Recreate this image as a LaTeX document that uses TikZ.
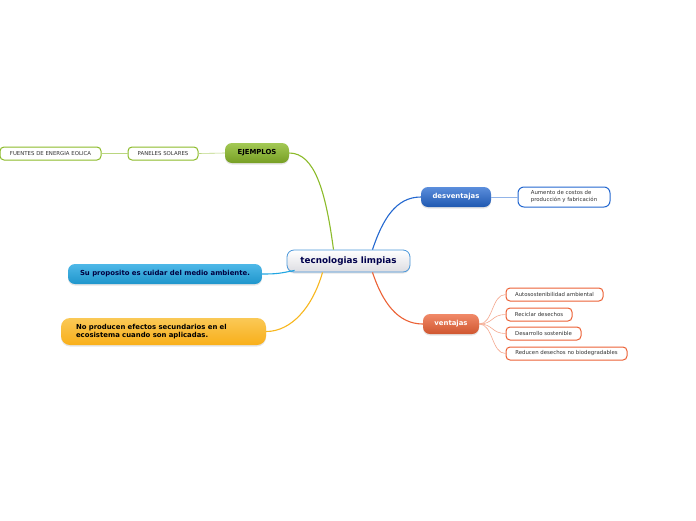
\documentclass[tikz,border=0pt]{standalone}
\usepackage{fontspec}
\setmainfont{DejaVu Sans}
\usepackage{tikz}
\usetikzlibrary{positioning, calc, shadows}

\definecolor{ejgreen}{HTML}{8CBB2A}
\definecolor{dvblue}{HTML}{2468D0}
\definecolor{vtorange}{HTML}{EC6236}
\definecolor{spcyan}{HTML}{22A6E2}
\definecolor{efyellow}{HTML}{F8B71E}
\definecolor{rootline}{HTML}{4A97DA}

\begin{document}
\begin{tikzpicture}[
  x=1pt, y=1pt,
  every node/.style={font=\fontsize{5}{6}\selectfont},
  topic/.style={rectangle, rounded corners=7pt, inner sep=0pt,
                minimum height=20pt, align=center,
                font=\fontsize{6.9}{8.5}\selectfont\bfseries,
                drop shadow={opacity=0.2, shadow xshift=0pt, shadow yshift=-1.5pt}},
  leaf/.style={rectangle, rounded corners=4pt, draw, line width=1pt,
               fill=white, inner sep=0pt, minimum height=13pt,
               text=black!80, font=\fontsize{5.4}{6.8}\selectfont},
  branch/.style={line width=1.1pt},
  twig/.style={line width=0.6pt}
]
  \useasboundingbox[fill=white] (0,0) rectangle (696,-520);

  % central topic
  \node[topic, minimum width=123pt, minimum height=22pt, draw=rootline,
        line width=0.8pt, top color=white, bottom color=blue!8!gray!25,
        text=blue!30!black, font=\fontsize{8.8}{10}\selectfont\bfseries]
        (root) at (348.5,-261) {tecnologias limpias};

  % main topics
  \node[topic, minimum width=64pt, top color=ejgreen!80!white,
        bottom color=ejgreen!85!black] (ejemplos) at (257,-153) {EJEMPLOS};
  \node[topic, minimum width=70pt, top color=dvblue!75!white,
        bottom color=dvblue!85!black, text=white] (desv) at (456,-197) {desventajas};
  \node[topic, minimum width=56pt, top color=vtorange!75!white,
        bottom color=vtorange!88!black, text=white] (vent) at (451,-324) {ventajas};
  \node[topic, minimum width=194pt, top color=spcyan!80!white,
        bottom color=spcyan!90!black, text=blue!25!black] (proposito) at (165,-274)
        {Su proposito es cuidar del medio ambiente.};
  \node[topic, minimum width=205pt, minimum height=27pt, rounded corners=9pt,
        top color=efyellow!75!white, bottom color=efyellow!85!orange,
        align=left, text width=175pt] (efectos) at (163.5,-331.5)
        {No producen efectos secundarios en el\\ecosistema cuando son aplicadas.};

  % leaves
  \node[leaf, draw=ejgreen, minimum width=70pt] (paneles) at (163,-153.5)
        {PANELES SOLARES};
  \node[leaf, draw=ejgreen, minimum width=101pt] (eolica) at (50.5,-153.5)
        {FUENTES DE ENERGIA EOLICA};
  \node[leaf, draw=dvblue, minimum width=92pt, minimum height=20pt, rounded corners=6pt,
        align=left, font=\fontsize{5.4}{7}\selectfont] (costos) at (564,-197)
        {Aumento de costos de\\producción y fabricación};
  \node[leaf, draw=vtorange, minimum width=97pt] (auto) at (554.5,-294.5)
        {Autosostenibilidad ambiental};
  \node[leaf, draw=vtorange, minimum width=66pt] (recic) at (539,-314.5)
        {Reciclar desechos};
  \node[leaf, draw=vtorange, minimum width=75pt] (desar) at (543.5,-333.5)
        {Desarrollo sostenible};
  \node[leaf, draw=vtorange, minimum width=121pt] (reduc) at (566.5,-353.5)
        {Reducen desechos no biodegradables};

  % branches from the centre
  \draw[branch, ejgreen] ($(root.north)+(-15,0)$) .. controls +(-8,60) and +(25,0) .. (ejemplos.east);
  \draw[branch, dvblue] ($(root.north)+(24,0)$) .. controls +(10,30) and +(-25,0) .. (desv.west);
  \draw[branch, vtorange] ($(root.south)+(24,0)$) .. controls +(10,-30) and +(-25,0) .. (vent.west);
  \draw[branch, spcyan] ($(root.south west)+(8,2)$) .. controls +(-15,-3) and +(15,0) .. (proposito.east);
  \draw[branch, efyellow] ($(root.south)+(-26,0)$) .. controls +(-10,-35) and +(25,0) .. (efectos.east);

  % twigs
  \draw[twig, ejgreen!60] (ejemplos.west) -- (paneles.east);
  \draw[twig, ejgreen!60] (paneles.west) -- (eolica.east);
  \draw[twig, dvblue!50] (desv.east) -- (costos.west);
  \foreach \leafname in {auto, recic, desar, reduc}
    \draw[twig, vtorange!55] (vent.east) .. controls +(14,0) and +(-14,0) .. (\leafname.west);
\end{tikzpicture}
\end{document}
